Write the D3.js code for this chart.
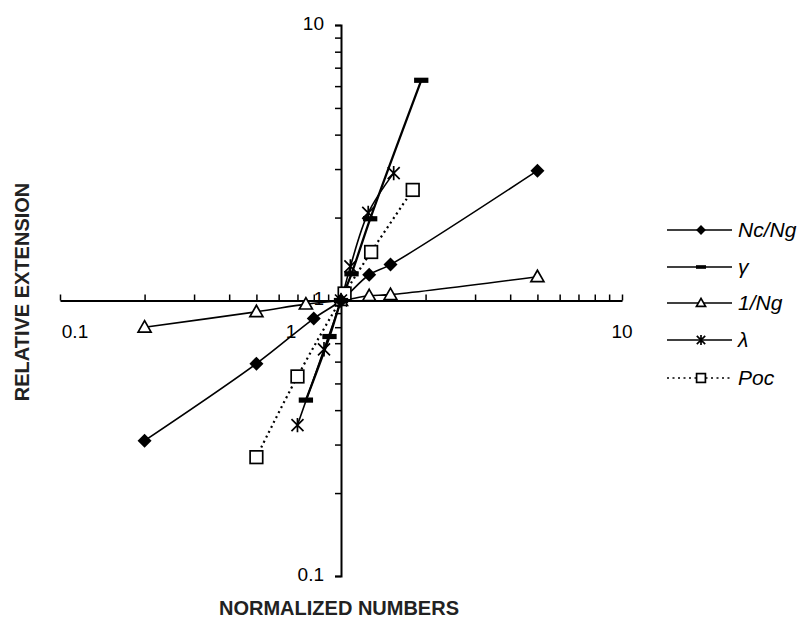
<!DOCTYPE html>
<html>
<head>
<meta charset="utf-8">
<script src="https://cdn.jsdelivr.net/npm/d3@7"></script>
<style>
  body { margin: 0; background: #fff; }
  text { font-family: "Liberation Sans", Arial, sans-serif; }
</style>
</head>
<body>
<script>
// values (log-log, both axes cross at 1)
var ncngX   = [0.2, 0.5, 0.8, 1, 1.26, 1.5, 5],
    ncngY   = [0.31, 0.59, 0.86, 1, 1.24, 1.35, 2.96];
var gammaX  = [0.75, 0.91, 1, 1.09, 1.27, 1.93],
    gammaY  = [0.435, 0.74, 1, 1.25, 1.98, 6.3];
var invNgX  = [0.2, 0.5, 0.75, 1, 1.26, 1.5, 5],
    invNgY  = [0.8, 0.91, 0.97, 1, 1.04, 1.05, 1.22];
var lambdaX = [0.7, 0.87, 1, 1.08, 1.25, 1.54],
    lambdaY = [0.353, 0.665, 1, 1.33, 2.08, 2.9];
var pocX    = [0.5, 0.7, 1.03, 1.28, 1.8],
    pocY    = [0.27, 0.53, 1.06, 1.5, 2.52];

var seriesNames = ["Nc/Ng", "\u03b3", "1/Ng", "\u03bb", "Poc"];
var axisTicks = [0.1, 1, 10];

var width = 805, height = 620;

var svg = d3.select("body").append("svg")
    .attr("width", width)
    .attr("height", height);

// scales
var x = d3.scaleLog().domain([0.1, 10]).range([60, 622]);
var y = d3.scaleLog().domain([0.1, 10]).range([576, 25]);

var minor = [];
[0.1, 1].forEach(function(d) {
  for (var k = 1; k <= 10; k++) minor.push(+(d * k).toPrecision(3));
});
minor = Array.from(new Set(minor));

var fmt = function(d) { return axisTicks.indexOf(d) >= 0 ? String(d) : ""; };

// x axis sits on y = 1, ticks pointing up
var gx = svg.append("g")
    .attr("transform", "translate(0," + y(1) + ")")
    .call(d3.axisTop(x).tickValues(minor).tickFormat("").tickSizeInner(6).tickSizeOuter(0));
gx.select(".domain").attr("stroke-width", 2);
gx.selectAll(".tick line").attr("stroke-width", 1.5);

// y axis sits on x = 1, ticks pointing left
var gy = svg.append("g")
    .attr("transform", "translate(" + x(1) + ",0)")
    .call(d3.axisLeft(y).tickValues(minor).tickFormat(fmt).tickSizeInner(6).tickSizeOuter(6).tickPadding(11));
gy.select(".domain").attr("stroke-width", 2);
gy.selectAll(".tick line").attr("stroke-width", 1.5);
gy.selectAll(".tick text")
    .attr("font-size", 19)
    .attr("font-family", "Liberation Sans, Arial, sans-serif")
    .attr("fill", "#000")
    .attr("dy", "0.22em");

// x tick labels (placed under the axis like the original)
var xLabShift = {"0.1": 15, "1": -50, "10": 0};
svg.append("g").selectAll("text")
    .data(axisTicks)
  .enter().append("text")
    .attr("x", function(d) { return x(d) + xLabShift[String(d)]; })
    .attr("y", y(1) + 37)
    .attr("text-anchor", "middle")
    .attr("font-size", 19)
    .text(function(d) { return String(d); });

// axis titles
svg.append("text")
    .attr("transform", "translate(29,292) rotate(-90)")
    .attr("text-anchor", "middle")
    .attr("font-size", 20)
    .attr("font-weight", "bold")
    .attr("fill", "#222")
    .text("RELATIVE EXTENSION");

svg.append("text")
    .attr("x", 339)
    .attr("y", 615)
    .attr("text-anchor", "middle")
    .attr("font-size", 20)
    .attr("font-weight", "bold")
    .attr("fill", "#222")
    .text("NORMALIZED NUMBERS");

// marker drawing
function marker(g, type, s) {
  if (type === "diamond") {
    g.append("path")
      .attr("d", "M0," + (-s) + "L" + s + ",0L0," + s + "L" + (-s) + ",0Z")
      .attr("fill", "#000");
  } else if (type === "dash") {
    g.append("rect")
      .attr("x", -s * 1.1).attr("y", -s * 0.4)
      .attr("width", s * 2.2).attr("height", s * 0.8)
      .attr("fill", "#000");
  } else if (type === "triangle") {
    g.append("path")
      .attr("d", "M0," + (-s) + "L" + s + "," + (s * 0.75) + "L" + (-s) + "," + (s * 0.75) + "Z")
      .attr("fill", "#fff").attr("stroke", "#000").attr("stroke-width", 1.7);
  } else if (type === "star") {
    g.append("path")
      .attr("d", "M" + (-s) + "," + (-s) + "L" + s + "," + s +
                 "M" + (-s) + "," + s + "L" + s + "," + (-s) +
                 "M0," + (-s * 1.2) + "L0," + (s * 1.2))
      .attr("fill", "none").attr("stroke", "#000").attr("stroke-width", 1.7);
  } else if (type === "square") {
    g.append("rect")
      .attr("x", -s).attr("y", -s)
      .attr("width", 2 * s).attr("height", 2 * s)
      .attr("fill", "#fff").attr("stroke", "#000").attr("stroke-width", 1.7);
  }
}

var series = [
  {name: seriesNames[0], xs: ncngX,   ys: ncngY,   m: "diamond",  dash: null, w: 1.6, size: 7},
  {name: seriesNames[1], xs: gammaX,  ys: gammaY,  m: "dash",     dash: null, w: 2.3, size: 6.5},
  {name: seriesNames[2], xs: invNgX,  ys: invNgY,  m: "triangle", dash: null, w: 1.6, size: 6.5},
  {name: seriesNames[3], xs: lambdaX, ys: lambdaY, m: "star",     dash: null, w: 1.6, size: 6},
  {name: seriesNames[4], xs: pocX,    ys: pocY,    m: "square",   dash: "2,3.5", w: 2.2, size: 6.3}
];

var line = d3.line()
    .x(function(d) { return x(d[0]); })
    .y(function(d) { return y(d[1]); })
    .curve(d3.curveCatmullRom.alpha(0.5));

series.forEach(function(s) {
  var pts = d3.zip(s.xs, s.ys);
  svg.append("path")
    .datum(pts)
    .attr("d", line)
    .attr("fill", "none")
    .attr("stroke", "#000")
    .attr("stroke-width", s.w)
    .attr("stroke-dasharray", s.dash);
});

// markers on top, in reverse so diamonds stay visible at the origin
series.slice().reverse().forEach(function(s) {
  d3.zip(s.xs, s.ys).forEach(function(p) {
    var g = svg.append("g").attr("transform", "translate(" + x(p[0]) + "," + y(p[1]) + ")");
    marker(g, s.m, s.size);
  });
});

// legend
var legY = [230, 267, 303, 340, 378];
var leg = svg.append("g");
series.forEach(function(s, i) {
  leg.append("line")
    .attr("x1", 667).attr("x2", 732)
    .attr("y1", legY[i]).attr("y2", legY[i])
    .attr("stroke", "#000")
    .attr("stroke-width", 1.6)
    .attr("stroke-dasharray", s.dash);
  var g = leg.append("g").attr("transform", "translate(701," + legY[i] + ")");
  marker(g, s.m, s.size * 0.7);
  leg.append("text")
    .attr("x", 738)
    .attr("y", legY[i] + 7)
    .attr("font-size", 21)
    .attr("font-style", "italic")
    .text(s.name);
});
</script>
</body>
</html>
